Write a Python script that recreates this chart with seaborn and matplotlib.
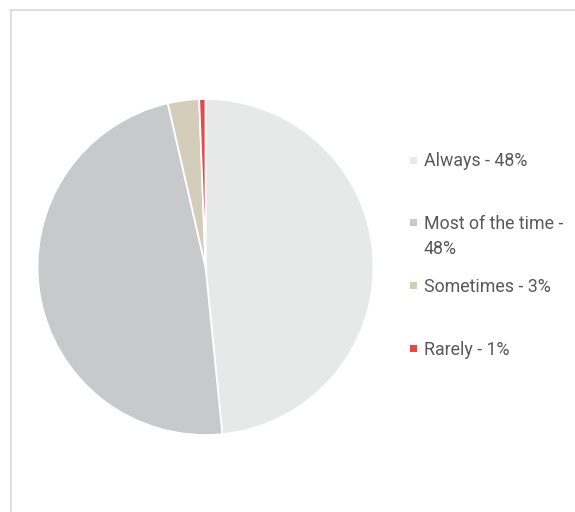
import matplotlib
matplotlib.use("Agg")
import matplotlib.pyplot as plt
from matplotlib.lines import Line2D
from matplotlib.patches import Rectangle
import seaborn as sns

categories = ["Always", "Most of the time", "Sometimes", "Rarely"]
shares = [48.4, 48.0, 3.0, 0.6]
colors = ["#E7E8E8", "#C8C9CB", "#D3CDBA", "#E8474C"]
legend_labels = ["Always - 48%", "Most of the time -\n48%", "Sometimes - 3%", "Rarely - 1%"]

sns.set_theme(style="white")
plt.rcParams["font.family"] = ["Roboto", "DejaVu Sans"]

W, H = 575, 512
fig = plt.figure(figsize=(W / 100, H / 100), dpi=100)
fig.patch.set_facecolor("white")

# pie axes: centre (205.5, 267) px, radius 168 px
cx, cy, r = 205.5, 267, 168
ax = fig.add_axes([(cx - r) / W, (H - cy - r) / H, 2 * r / W, 2 * r / H])
ax.pie(shares, colors=colors, startangle=90, counterclock=False,
       wedgeprops=dict(edgecolor="white", linewidth=1.3))
ax.set_xlim(-1, 1)
ax.set_ylim(-1, 1)
ax.set_aspect("equal")
ax.axis("off")

# chart frame (top and left edges)
frame_color = "#D9D9D9"
fig.add_artist(Line2D([10 / W, 1], [1 - 9.5 / H, 1 - 9.5 / H], color=frame_color, lw=1.2,
                      transform=fig.transFigure))
fig.add_artist(Line2D([10.5 / W, 10.5 / W], [0, 1 - 9.5 / H], color=frame_color, lw=1.2,
                      transform=fig.transFigure))

# legend entries
text_color = "#595959"
y0, step = 160, 62.7
for i, (lab, col) in enumerate(zip(legend_labels, colors)):
    y = y0 + i * step
    fig.add_artist(Rectangle((410 / W, 1 - (y + 3.5) / H), 7 / W, 7 / H,
                             facecolor=col, edgecolor="none", transform=fig.transFigure))
    fig.text(424 / W, 1 - (y - 7.5) / H, lab, color=text_color, fontsize=12.8,
             ha="left", va="top", linespacing=1.5)

fig.savefig("out.png", dpi=100, facecolor="white")
